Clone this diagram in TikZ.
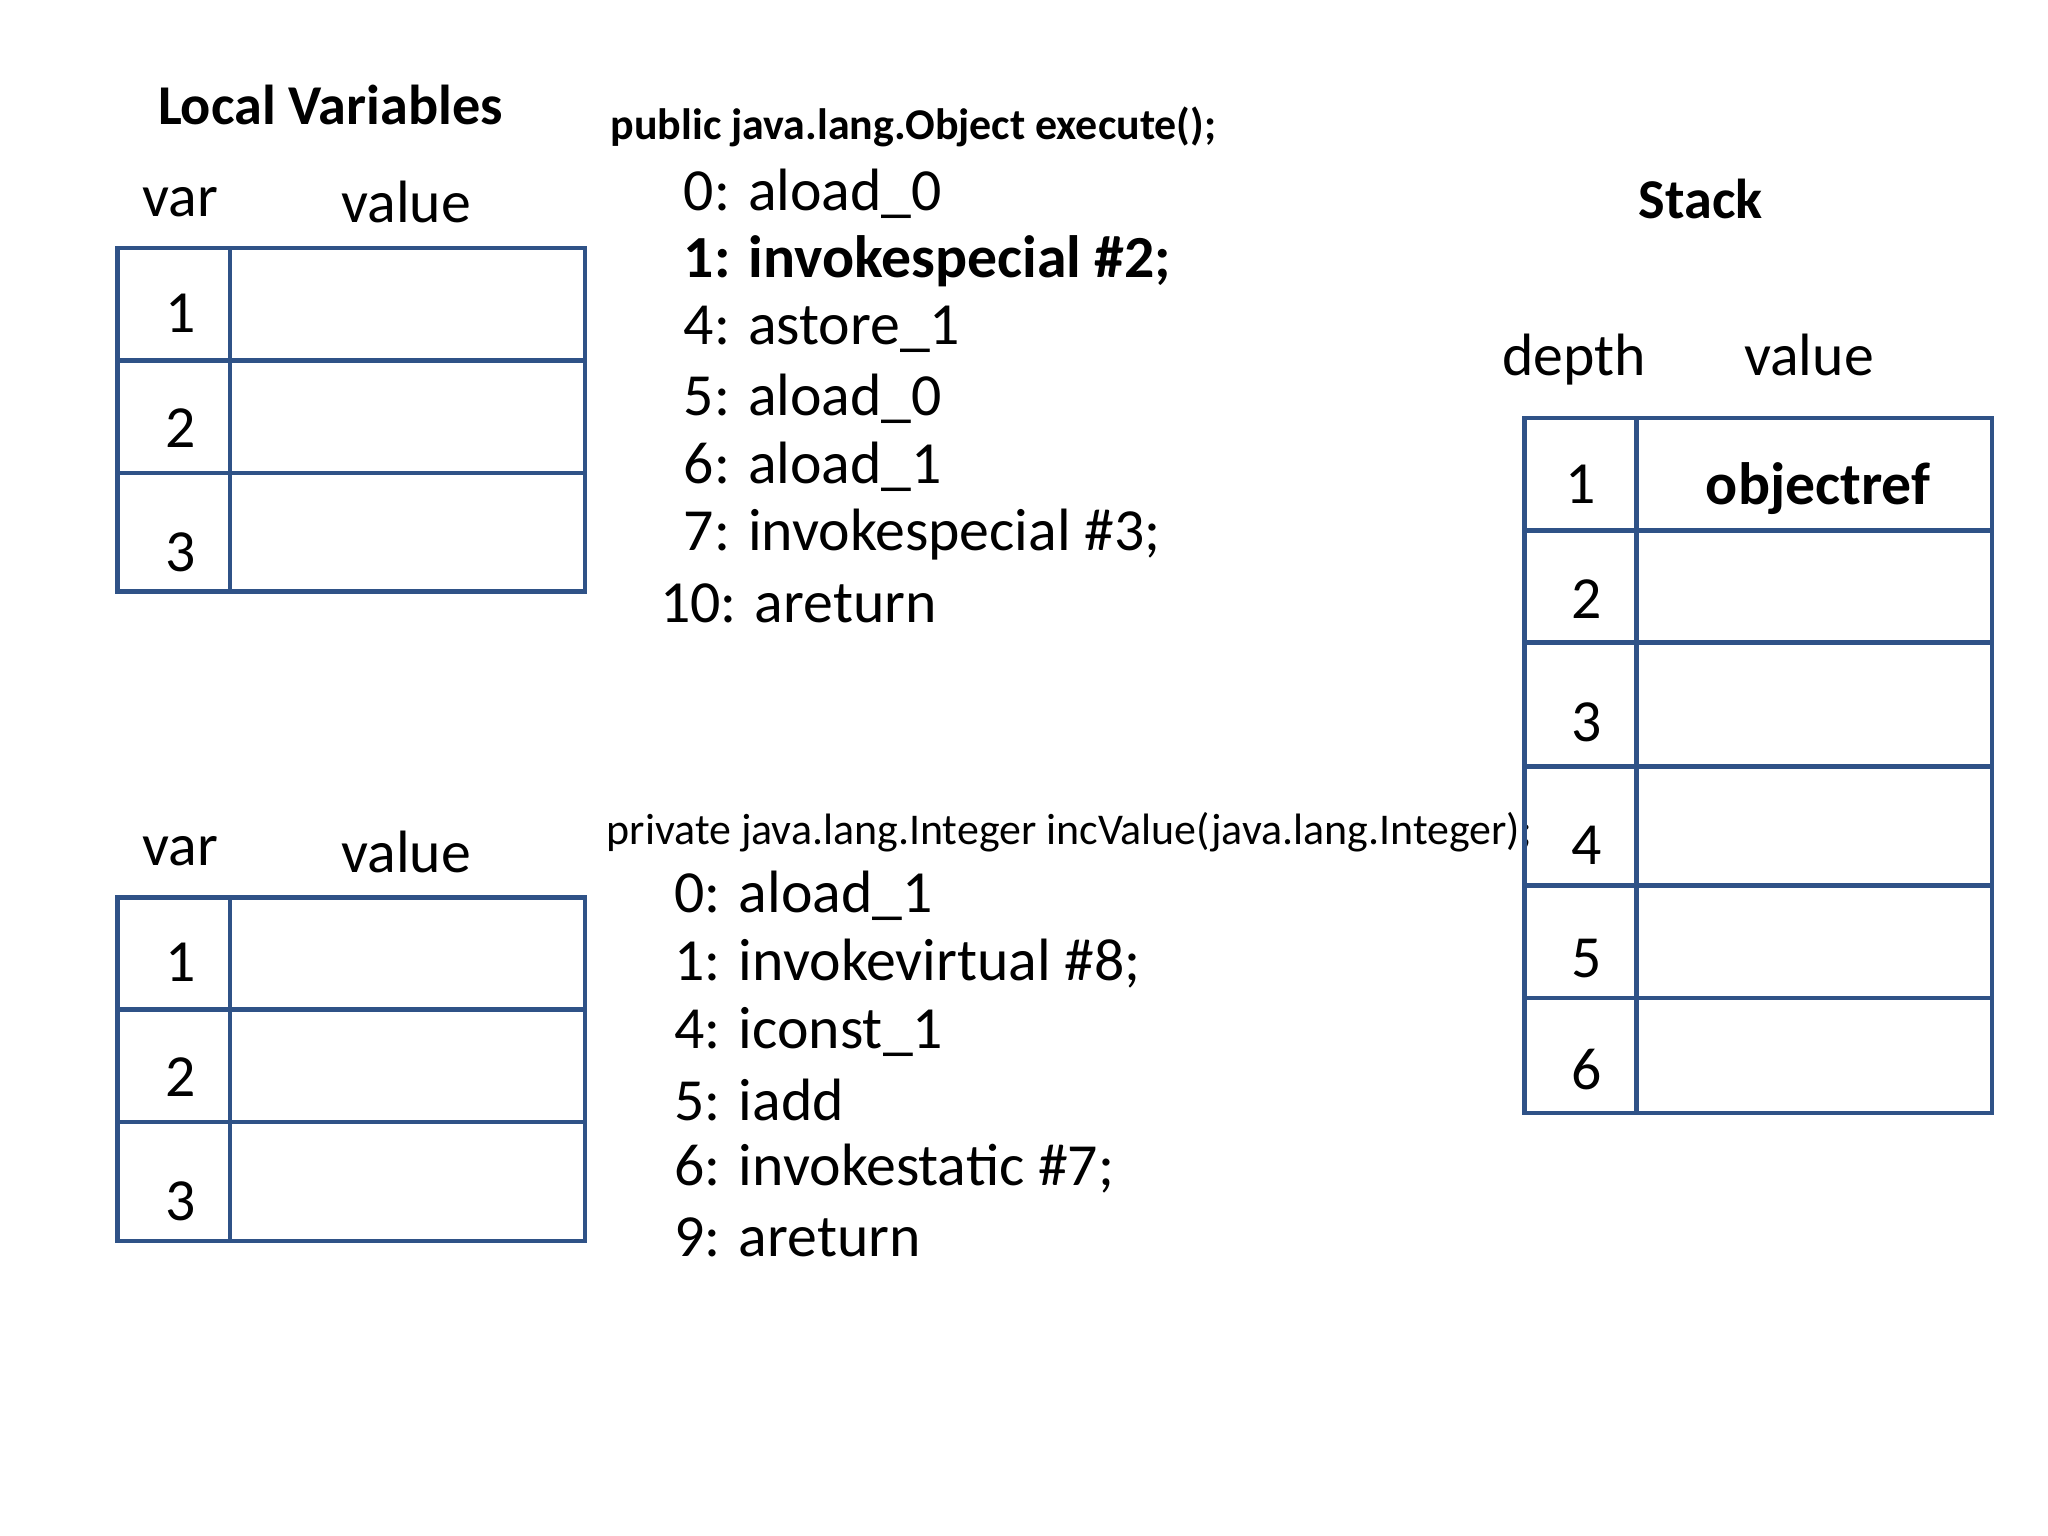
\documentclass[tikz,border=0pt]{standalone}
\usepackage{fontspec}
\setmainfont{Carlito}
\colorlet{TableLine}{blue!45!black!80}
\definecolor{TableLine}{RGB}{47,82,135}
\tikzset{
  cell/.style={draw=TableLine, line width=1.3pt},
  txt/.style={inner sep=0pt, font=\fontsize{17}{20}\selectfont},
  code/.style={txt, anchor=west},
  title/.style={inner sep=0pt, font=\fontsize{16}{19}\selectfont\bfseries},
}
\begin{document}
\begin{tikzpicture}[x=0.01306cm, y=-0.01306cm]
\useasboundingbox (0,0) rectangle (1568,1176);

% Tabla de variables locales (arriba)
\node[title] (lvtitle) at (253,80) {Local Variables};
\node[txt] (var1) at (138,155) {var};
\node[txt] (val1) at (311,155) {value};
\draw[cell] (90,190) rectangle (448,453);
\draw[cell] (176,190) -- (176,453);
\foreach \y in {276,362} \draw[cell] (90,\y) -- (448,\y);
\node[txt] (a1) at (138,240) {1};
\node[txt] (a2) at (138,328) {2};
\node[txt] (a3) at (138,423) {3};

% Tabla de variables locales (abajo)
\node[txt] (var2) at (138,652) {var};
\node[txt] (val2) at (311,652) {value};
\draw[cell] (90,687) rectangle (448,950);
\draw[cell] (176,687) -- (176,950);
\foreach \y in {773,859} \draw[cell] (90,\y) -- (448,\y);
\node[txt] (b1) at (138,737) {1};
\node[txt] (b2) at (138,825) {2};
\node[txt] (b3) at (138,920) {3};

% Codigo
\node[title, anchor=west, font=\fontsize{12.5}{15}\selectfont\bfseries] (m1) at (467,97) {public java.lang.Object execute();};
\node[code] (c1) at (523,148) {0: aload\_0};
\node[code, font=\fontsize{17}{20}\selectfont\bfseries] (c2) at (523,200) {1: invokespecial \#2;};
\node[code] (c3) at (523,252) {4: astore\_1};
\node[code] (c4) at (523,305) {5: aload\_0};
\node[code] (c5) at (523,357) {6: aload\_1};
\node[code] (c6) at (523,409) {7: invokespecial \#3;};
\node[code] (c7) at (505,462) {10: areturn};

\node[code, font=\fontsize{12.5}{15}\selectfont] (m2) at (464,637) {private java.lang.Integer incValue(java.lang.Integer);};
\node[code] (d1) at (516,686) {0: aload\_1};
\node[code] (d2) at (516,738) {1: invokevirtual \#8;};
\node[code] (d3) at (516,790) {4: iconst\_1};
\node[code] (d4) at (516,842) {5: iadd};
\node[code] (d5) at (516,895) {6: invokestatic \#7;};
\node[code] (d6) at (516,947) {9: areturn};

% Pila
\node[title] (sttitle) at (1302,152) {Stack};
\node[txt] (depth) at (1205,275) {depth};
\node[txt] (sval) at (1385,272) {value};
\draw[cell] (1167,320) rectangle (1525,852);
\draw[cell] (1253,320) -- (1253,852);
\foreach \y in {406,492,587,678,764} \draw[cell] (1167,\y) -- (1525,\y);
\node[txt] (s1) at (1210,371) {1};
\node[txt, font=\fontsize{17}{20}\selectfont\bfseries] (obj) at (1392,374) {objectref};
\node[txt] (s2) at (1215,459) {2};
\node[txt] (s3) at (1215,553) {3};
\node[txt] (s4) at (1215,647) {4};
\node[txt] (s5) at (1215,734) {5};
\node[txt] (s6) at (1215,819) {6};
\end{tikzpicture}
\end{document}
